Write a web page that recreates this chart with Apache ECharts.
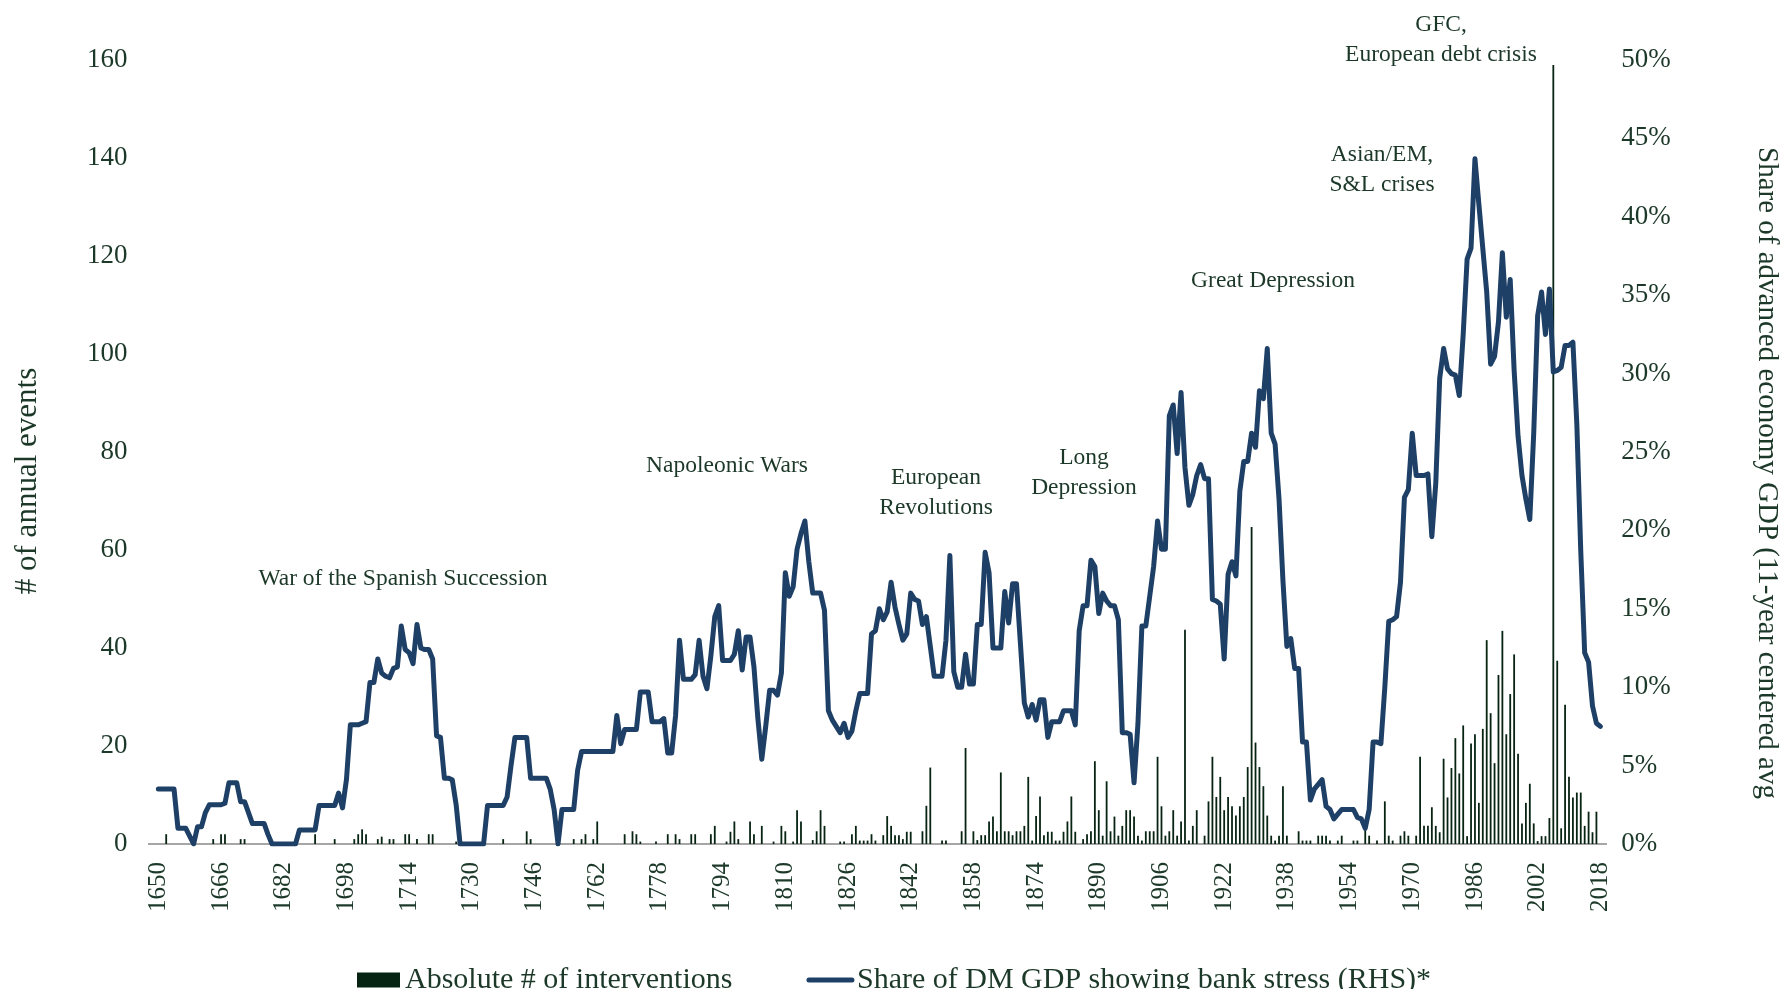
<!DOCTYPE html>
<html>
<head>
<meta charset="utf-8">
<title>Bank stress and interventions</title>
<script src="https://cdn.jsdelivr.net/npm/echarts@6/dist/echarts.min.js"></script>
<style>
  html, body { margin: 0; padding: 0; background: #fff; }
  #chart { width: 1784px; height: 989px; }
</style>
</head>
<body>
<div id="chart"></div>
<script>
// one category per year
const years = [];
for (let y = 1650; y <= 2018; y++) years.push(String(y));

// Share of DM GDP showing bank stress (RHS), % -- one value per year, by decade
const shareStress = [
  3.5, 3.5, 3.5, 3.5, 3.5, 1.0, 1.0, 1.0, 0.5, 0,          // 1650s
  1.1, 1.1, 2.0, 2.5, 2.5, 2.5, 2.5, 2.6, 3.9, 3.9,        // 1660s
  3.9, 2.7, 2.7, 2.0, 1.3, 1.3, 1.3, 1.3, 0.6, 0,          // 1670s
  0, 0, 0, 0, 0, 0, 0.9, 0.9, 0.9, 0.9,                    // 1680s
  0.9, 2.45, 2.45, 2.45, 2.45, 2.45, 3.25, 2.3, 4.1, 7.6,  // 1690s
  7.6, 7.6, 7.7, 7.8, 10.3, 10.3, 11.8, 10.9, 10.7, 10.6,  // 1700s
  11.2, 11.3, 13.9, 12.4, 12.2, 11.5, 14.0, 12.5, 12.4, 12.4, // 1710s
  11.8, 6.9, 6.8, 4.2, 4.2, 4.1, 2.5, 0, 0, 0,             // 1720s
  0, 0, 0, 0, 2.45, 2.45, 2.45, 2.45, 2.45, 3.0,           // 1730s
  5.0, 6.8, 6.8, 6.8, 6.8, 4.2, 4.2, 4.2, 4.2, 4.2,        // 1740s
  3.5, 2.2, 0, 2.2, 2.2, 2.2, 2.2, 4.7, 5.9, 5.9,          // 1750s
  5.9, 5.9, 5.9, 5.9, 5.9, 5.9, 5.9, 8.2, 6.4, 7.3,        // 1760s
  7.3, 7.3, 7.3, 9.7, 9.7, 9.7, 7.8, 7.8, 7.8, 8.0,        // 1770s
  5.8, 5.8, 8.2, 13.0, 10.5, 10.5, 10.5, 10.8, 13.0, 10.7, // 1780s
  9.9, 12.0, 14.5, 15.2, 11.7, 11.7, 11.7, 12.1, 13.6, 11.1, // 1790s
  13.2, 13.2, 11.3, 8.0, 5.4, 7.5, 9.8, 9.8, 9.5, 10.9,    // 1800s
  17.3, 15.8, 16.4, 18.8, 19.8, 20.6, 18.0, 16.0, 16.0, 16.0, // 1810s
  14.9, 8.5, 7.9, 7.5, 7.1, 7.7, 6.8, 7.2, 8.5, 9.6,       // 1820s
  9.6, 9.6, 13.4, 13.6, 15.0, 14.3, 14.8, 16.7, 15.1, 14.0, // 1830s
  13.0, 13.4, 16.0, 15.6, 15.5, 14.0, 14.5, 12.6, 10.7, 10.7, // 1840s
  10.7, 13.0, 18.4, 11.0, 10.0, 10.0, 12.1, 10.2, 10.2, 14.0, // 1850s
  14.0, 18.6, 17.3, 12.5, 12.5, 12.5, 16.1, 14.1, 16.6, 16.6, // 1860s
  12.8, 9.0, 8.1, 8.9, 7.9, 9.2, 9.2, 6.8, 7.8, 7.8,       // 1870s
  7.8, 8.5, 8.5, 8.5, 7.6, 13.6, 15.2, 15.2, 18.1, 17.7,   // 1880s
  14.7, 16.0, 15.5, 15.2, 15.2, 14.3, 7.1, 7.1, 7.0, 3.9,  // 1890s
  7.7, 13.9, 13.9, 15.8, 17.7, 20.6, 18.8, 18.8, 27.3, 28.0, // 1900s
  24.9, 28.8, 24.0, 21.6, 22.3, 23.5, 24.2, 23.3, 23.3, 15.6, // 1910s
  15.5, 15.3, 11.8, 17.2, 18.0, 17.1, 22.5, 24.4, 24.4, 26.2, // 1920s
  25.3, 28.9, 28.4, 31.6, 26.2, 25.5, 22.0, 16.8, 12.6, 13.1, // 1930s
  11.2, 11.2, 6.5, 6.5, 2.8, 3.5, 3.8, 4.1, 2.4, 2.2,      // 1940s
  1.6, 1.9, 2.2, 2.2, 2.2, 2.2, 1.7, 1.6, 1.0, 2.2,        // 1950s
  6.5, 6.5, 6.4, 10.0, 14.2, 14.3, 14.5, 16.7, 22.1, 22.6, // 1960s
  26.2, 23.5, 23.5, 23.5, 23.6, 19.6, 23.0, 29.7, 31.6, 30.3, // 1970s
  30.0, 29.9, 28.6, 32.5, 37.3, 38.0, 43.7, 40.8, 38.0, 35.2, // 1980s
  30.6, 31.1, 33.3, 37.7, 33.6, 36.0, 30.2, 26.0, 23.5, 22.0, // 1990s
  20.7, 26.2, 33.7, 35.2, 32.5, 35.4, 30.1, 30.2, 30.4, 31.8, // 2000s
  31.8, 32.0, 26.8, 18.7, 12.2, 11.6, 8.8, 7.7, 7.5        // 2010s
];

// Absolute # of interventions (LHS) -- one value per year, by decade
const interventions = [
  0, 0, 2, 0, 0, 0, 0, 0, 0, 0,                 // 1650s
  0, 0, 0, 0, 1, 0, 2, 2, 0, 0,                 // 1660s
  0, 1, 1, 0, 0, 0, 0, 0, 0, 0,                 // 1670s
  0, 0, 0, 0, 0, 0, 0, 0, 0, 0,                 // 1680s
  2, 0, 0, 0, 0, 1, 0, 0, 0, 0,                 // 1690s
  1, 2, 3, 2, 0, 0, 1, 1.5, 0, 1,               // 1700s
  1, 0, 0, 2, 2, 0, 1, 0, 0, 2,                 // 1710s
  2, 0, 0, 0, 0, 0, 0.5, 0, 0, 0,               // 1720s
  0, 0, 0, 0, 0, 0, 0, 0, 1, 0,                 // 1730s
  0, 0, 0, 0, 2.6, 1, 0, 0, 0, 0,               // 1740s
  0, 0, 0, 0, 0, 0, 1, 0, 1, 2,                 // 1750s
  0, 1, 4.6, 0, 0, 0, 0, 0, 0, 2,               // 1760s
  0, 2.6, 2, 0.5, 0, 0, 0, 0.5, 0, 0,           // 1770s
  2, 0, 2, 1, 0, 0, 2, 2, 0, 0,                 // 1780s
  0, 2, 3.7, 0, 0, 0.5, 2.5, 4.6, 1, 0,         // 1790s
  0, 4.6, 2, 0, 3.7, 0, 0, 0.5, 0, 3.7,         // 1800s
  2.6, 0, 0.5, 6.9, 4.6, 0, 0, 0.8, 2.6, 6.9,   // 1810s
  3.7, 0, 0, 0, 0.5, 0.5, 0, 2, 3.7, 0.7,       // 1820s
  0.7, 0.7, 2, 0.7, 0, 1.8, 5.7, 3.7, 1.8, 1.8, // 1830s
  1.0, 2.5, 2.5, 0, 0, 2.6, 7.8, 15.6, 0, 0,    // 1840s
  0.7, 0.7, 0, 0, 0, 2.6, 19.6, 0, 2.6, 0.8,    // 1850s
  1.8, 1.8, 4.6, 5.6, 2.6, 14.6, 2.6, 2.6, 1.8, 2.6, // 1860s
  2.6, 3.7, 13.7, 0.7, 5.7, 9.7, 1.8, 2.5, 2.5, 0.7, // 1870s
  0.7, 2.5, 4.6, 9.7, 2.5, 0, 1.0, 2.0, 2.6, 16.9,   // 1880s
  6.9, 1.7, 12.8, 2.6, 5.6, 1.7, 3.7, 6.9, 6.9, 5.6, // 1890s
  1.7, 0.7, 2.6, 2.6, 2.6, 17.8, 7.7, 1.7, 2.6, 6.9, // 1900s
  1.7, 4.6, 43.7, 0.7, 3.7, 6.9, 0, 1.7, 8.7, 17.8,  // 1910s
  9.6, 13.7, 6.9, 9.6, 7.7, 5.8, 7.7, 9.6, 15.7, 64.7, // 1920s
  20.7, 15.7, 11.8, 5.8, 1.7, 0.7, 1.7, 11.8, 1.7, 0,  // 1930s
  0, 2.6, 0.7, 0.7, 0.7, 0, 1.7, 1.7, 1.7, 0.7,      // 1940s
  0, 0.7, 1.7, 0, 0, 0.7, 0.7, 0, 2.9, 1.7,          // 1950s
  0, 0.7, 0, 8.7, 1.7, 0.7, 0, 1.7, 2.6, 1.7,        // 1960s
  0, 1.7, 17.8, 3.7, 3.7, 7.5, 3.7, 2.4, 17.4, 9.5,  // 1970s
  15.5, 21.6, 14.4, 24.2, 1.6, 20.5, 22.4, 8.4, 23.5, 41.6, // 1980s
  26.7, 16.5, 34.5, 43.5, 22.4, 30.6, 38.7, 18.4, 4.2, 8.4, // 1990s
  12.3, 4.2, 0.6, 1.6, 1.6, 5.3, 159, 37.4, 3.2, 28.4,      // 2000s
  13.7, 9.5, 10.5, 10.5, 3.7, 6.6, 2.4, 6.6, 0              // 2010s
];

const leftTicks = { min: 0, max: 160, step: 20 };
const rightTicks = { min: 0, max: 50, step: 5 };

// annotation labels: [text, x, y]
const annotations = [
  ['War of the Spanish Succession', 403, 579],
  ['Napoleonic Wars', 727, 466],
  ['European\nRevolutions', 936, 493],
  ['Long\nDepression', 1084, 473],
  ['Great Depression', 1273, 281],
  ['Asian/EM,\nS&L crises', 1382, 170],
  ['GFC,\nEuropean debt crisis', 1441, 40]
];

const FONT = '"Liberation Serif", "DejaVu Serif", serif';
const TXT = '#1c3828';
const NAVY = '#1f4066';
const BAR_NAME = 'Absolute # of interventions';
const LINE_NAME = 'Share of DM GDP showing bank stress (RHS)*';

const chart = echarts.init(document.getElementById('chart'));

function label(text, x, y, size, rotation) {
  return {
    type: 'text', x: x, y: y, rotation: rotation || 0, z: 10,
    style: {
      text: text, font: size + 'px ' + FONT, fill: TXT,
      textAlign: 'center', align: 'center',
      textVerticalAlign: 'middle', verticalAlign: 'middle',
      lineHeight: 30
    }
  };
}

const graphics = annotations.map(a => label(a[0], a[1], a[2], 23.5));
graphics.push(label('# of annual events', 28, 481, 31, Math.PI / 2));
graphics.push(label('Share of advanced economy GDP (11-year centered avg', 1767, 473, 29, -Math.PI / 2));
// horizontal base line, a little longer than the category band like the original
graphics.push({
  type: 'line', z: 1,
  shape: { x1: 148, y1: 844, x2: 1607, y2: 844 },
  style: { stroke: '#a6a6a6', lineWidth: 2 }
});

chart.setOption({
  backgroundColor: '#ffffff',
  animation: false,
  grid: { left: 156.4, right: 181.7, top: 60, bottom: 145, containLabel: false },
  legend: {
    left: 352,
    top: 960,
    itemWidth: 43,
    itemHeight: 15,
    itemGap: 74,
    textStyle: { fontFamily: FONT, fontSize: 30, color: TXT },
    data: [
      { name: BAR_NAME, icon: 'rect' },
      { name: LINE_NAME, itemStyle: { opacity: 0 }, lineStyle: { color: NAVY, width: 5 } }
    ]
  },
  xAxis: {
    type: 'category',
    data: years,
    boundaryGap: true,
    axisLine: { show: false },
    axisTick: { show: false },
    axisLabel: {
      interval: 15,
      rotate: 90,
      margin: 18,
      fontFamily: FONT,
      fontSize: 25,
      color: TXT
    },
    splitLine: { show: false }
  },
  yAxis: [
    {
      type: 'value',
      min: leftTicks.min, max: leftTicks.max, interval: leftTicks.step,
      axisLine: { show: false }, axisTick: { show: false }, splitLine: { show: false },
      axisLabel: { margin: 29, fontFamily: FONT, fontSize: 27, color: TXT }
    },
    {
      type: 'value',
      min: rightTicks.min, max: rightTicks.max, interval: rightTicks.step,
      axisLine: { show: false }, axisTick: { show: false }, splitLine: { show: false },
      axisLabel: { margin: 19, fontFamily: FONT, fontSize: 27, color: TXT, formatter: '{value}%' }
    }
  ],
  graphic: graphics,
  series: [
    {
      name: BAR_NAME,
      type: 'bar',
      yAxisIndex: 0,
      data: interventions,
      barWidth: 1.8,
      itemStyle: { color: '#072312' },
      emphasis: { disabled: true }
    },
    {
      name: LINE_NAME,
      type: 'line',
      yAxisIndex: 1,
      data: shareStress,
      symbol: 'none',
      lineStyle: { color: NAVY, width: 5, cap: 'round', join: 'round' },
      itemStyle: { color: NAVY },
      emphasis: { disabled: true }
    }
  ]
});
</script>
</body>
</html>
